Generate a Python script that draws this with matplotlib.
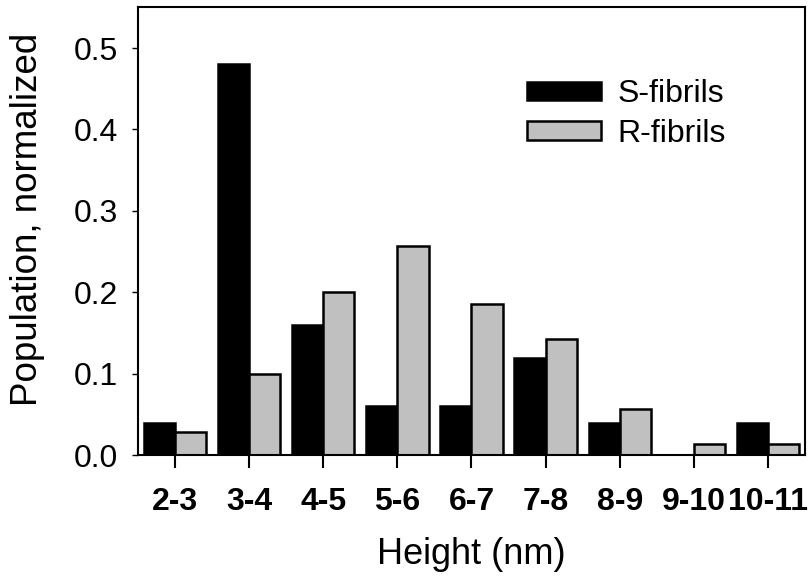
import matplotlib
matplotlib.use("Agg")
import matplotlib.pyplot as plt
import numpy as np

categories = ["2-3", "3-4", "4-5", "5-6", "6-7", "7-8", "8-9", "9-10", "10-11"]
s_fibrils = [0.04, 0.48, 0.16, 0.06, 0.06, 0.12, 0.04, 0.0, 0.04]
r_fibrils = [0.029, 0.10, 0.20, 0.257, 0.186, 0.143, 0.057, 0.014, 0.014]
y_ticks = [0.0, 0.1, 0.2, 0.3, 0.4, 0.5]

plt.rcParams['font.family'] = ['Liberation Sans', 'DejaVu Sans']

fig = plt.figure(figsize=(8.11, 5.80), dpi=100)
ax = fig.add_axes([138/811, 1-455.3/580, (805-138)/811, (455.3-7.3)/580])

x = np.arange(len(categories))
w = 0.42
ax.bar(x - w/2, s_fibrils, width=w, color="black", edgecolor="black", linewidth=1.8, label="S-fibrils")
ax.bar(x + w/2, r_fibrils, width=w, color="#c0c0c0", edgecolor="black", linewidth=1.8, label="R-fibrils")

ax.set_xlim(-0.5, len(categories) - 0.5)
ax.set_ylim(0, 0.55)
ax.set_xticks(x)
ax.set_xticklabels(categories, fontsize=23, fontweight="bold")
ax.set_yticks(y_ticks)
ax.set_yticklabels([f"{v:.1f}" for v in y_ticks], fontsize=23)
ax.tick_params(axis="x", direction="out", length=9.5, width=1.5, pad=13)
ax.tick_params(axis="y", direction="out", length=4.5, width=1.0, pad=10)
for sp in ax.spines.values():
    sp.set_linewidth(1.5)

ax.set_xlabel("Height (nm)", fontsize=26, labelpad=15)
ax.set_ylabel("Population, normalized", fontsize=26.5)
ax.yaxis.set_label_coords(-0.139, 0.526)

ax.legend(loc="upper left", bbox_to_anchor=(0.5645, 0.868), frameon=False, fontsize=23,
          handlelength=2.3, handleheight=0.5, handletextpad=0.53, labelspacing=0.3,
          borderaxespad=0)

fig.savefig("out.png", dpi=100)
